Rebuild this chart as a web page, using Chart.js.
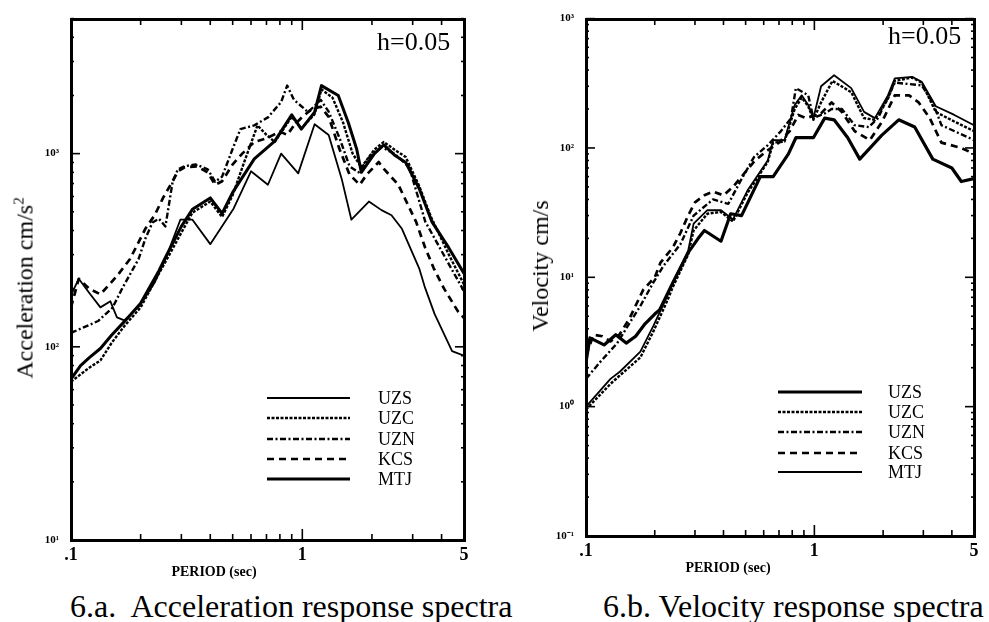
<!DOCTYPE html>
<html><head><meta charset="utf-8">
<script src="https://cdn.jsdelivr.net/npm/chart.js@4/dist/chart.umd.min.js"></script>
<style>
body{margin:0;background:#fff;width:989px;height:622px;overflow:hidden;position:relative;font-family:"Liberation Serif","Times New Roman",serif;color:#000;}
canvas{position:absolute;top:0;}
.t{position:absolute;white-space:nowrap;line-height:1;}
.rot{transform:translate(-50%,-50%) rotate(-90deg);}
</style></head><body>
<canvas id="accChart" width="480" height="565" style="left:0"></canvas>
<canvas id="velChart" width="489" height="565" style="left:500px"></canvas>

<div class="t rot" style="left:24px;top:288px;font-size:24px;">Acceleration cm/s<sup style="font-size:15px;">2</sup></div>
<div class="t rot" style="left:540px;top:266px;font-size:24px;">Velocity cm/s</div>
<div class="t" style="left:377px;top:29px;font-size:26px;">h=0.05</div>
<div class="t" style="left:888px;top:23px;font-size:26px;">h=0.05</div>
<div class="t" style="left:214px;top:572px;font-size:14px;font-weight:bold;transform:translate(-50%,-50%);">PERIOD (sec)</div>
<div class="t" style="left:728px;top:568px;font-size:14px;font-weight:bold;transform:translate(-50%,-50%);">PERIOD (sec)</div>
<div class="t" style="left:70px;top:590px;font-size:32px;white-space:pre;">6.a.  Acceleration response spectra</div>
<div class="t" style="left:603px;top:590px;font-size:32px;white-space:pre;">6.b. Velocity response spectra</div>

<script>
// ---------- DATA ----------
const seriesNames = ["UZS", "UZC", "UZN", "KCS", "MTJ"];
const xTickValues = [0.1, 1, 5];
const xTickLabels = [".1", "1", "5"];

// Acceleration (cm/s^2) vs period (sec)
const accT_UZS = [0.1, 0.108, 0.12, 0.134, 0.148, 0.158, 0.17, 0.2, 0.23, 0.256, 0.297, 0.335, 0.4, 0.505, 0.6, 0.71, 0.81, 0.96, 1.13, 1.3, 1.48, 1.63, 1.94, 2.2, 2.43, 2.69, 3.2, 3.38, 3.73, 4.44, 5];
const accUZS   = [185, 225, 190, 160, 172, 142, 137, 166, 215, 285, 455, 455, 340, 520, 810, 690, 1000, 790, 1420, 1250, 740, 455, 565, 510, 480, 410, 255, 205, 148, 95, 90];

const accT_UZC = [0.1, 0.11, 0.12, 0.134, 0.15, 0.17, 0.2, 0.24, 0.256, 0.3, 0.335, 0.4, 0.45, 0.5, 0.56, 0.64, 0.7, 0.76, 0.9, 0.99, 1.13, 1.21, 1.35, 1.5, 1.65, 1.8, 2.05, 2.25, 2.5, 2.8, 3.2, 3.6, 4.3, 5];
const accUZC   = [66, 72, 78, 85, 105, 128, 160, 240, 275, 390, 495, 565, 470, 610, 900, 1400, 1250, 1150, 1550, 1350, 1600, 2150, 1950, 1450, 1000, 850, 1050, 1150, 1050, 960, 680, 470, 300, 210];

const accT_UZN = [0.1, 0.131, 0.151, 0.167, 0.196, 0.21, 0.225, 0.24, 0.256, 0.275, 0.29, 0.31, 0.345, 0.39, 0.42, 0.45, 0.5, 0.54, 0.62, 0.71, 0.81, 0.86, 0.92, 1.06, 1.2, 1.3, 1.45, 1.6, 1.75, 2.0, 2.2, 2.5, 2.9, 3.4, 4.3, 5];
const accUZN   = [118, 136, 159, 202, 285, 365, 440, 460, 420, 715, 830, 860, 880, 830, 715, 760, 1060, 1340, 1400, 1540, 1850, 2250, 1900, 1640, 1900, 1650, 1200, 860, 800, 1000, 1080, 1000, 850, 445, 268, 194];

const accT_KCS = [0.1, 0.108, 0.12, 0.134, 0.148, 0.16, 0.18, 0.21, 0.23, 0.25, 0.275, 0.29, 0.31, 0.35, 0.39, 0.42, 0.45, 0.5, 0.55, 0.62, 0.7, 0.8, 0.86, 0.92, 1.0, 1.1, 1.2, 1.3, 1.45, 1.6, 1.77, 1.9, 2.14, 2.2, 2.6, 3.1, 3.4, 3.7, 4.1, 4.7, 5];
const accKCS   = [160, 225, 200, 187, 213, 237, 285, 410, 480, 590, 720, 810, 850, 860, 800, 690, 720, 880, 1000, 1150, 1200, 1300, 1250, 1400, 1550, 1700, 1750, 1550, 1050, 780, 690, 780, 905, 860, 690, 445, 325, 255, 200, 153, 141];

const accT_MTJ = [0.1, 0.11, 0.12, 0.134, 0.15, 0.17, 0.2, 0.24, 0.256, 0.3, 0.335, 0.4, 0.45, 0.5, 0.62, 0.76, 0.9, 0.99, 1.13, 1.21, 1.43, 1.58, 1.72, 1.8, 2.05, 2.25, 2.5, 2.8, 3.2, 3.63, 4.3, 5];
const accMTJ   = [68, 80, 88, 98, 115, 135, 168, 248, 290, 420, 515, 590, 490, 630, 940, 1160, 1590, 1340, 1640, 2250, 2000, 1450, 1050, 800, 1000, 1110, 985, 900, 660, 445, 325, 240];

// Velocity (cm/s) vs period (sec)
const velT_UZS = [0.1, 0.104, 0.12, 0.135, 0.15, 0.165, 0.18, 0.2, 0.21, 0.24, 0.28, 0.31, 0.33, 0.39, 0.43, 0.48, 0.58, 0.66, 0.77, 0.83, 0.99, 1.11, 1.22, 1.4, 1.58, 1.8, 1.97, 2.34, 2.75, 3.3, 4.0, 4.4, 5];
const velUZS   = [2.2, 3.4, 3.0, 3.6, 3.1, 3.5, 4.3, 5.2, 5.6, 9.1, 15.5, 20, 23, 19, 31, 30, 60, 60, 90, 120, 120, 170, 165, 120, 82, 105, 125, 165, 145, 82, 70, 55, 58];

const velT_UZC = [0.1, 0.128, 0.141, 0.173, 0.197, 0.227, 0.24, 0.28, 0.296, 0.34, 0.39, 0.44, 0.51, 0.625, 0.66, 0.74, 0.82, 0.88, 0.94, 0.99, 1.07, 1.2, 1.45, 1.65, 1.84, 2.1, 2.25, 2.68, 2.95, 3.4, 4.1, 5];
const velUZC   = [0.95, 1.5, 1.75, 2.4, 3.8, 6.6, 8.4, 15, 23, 31, 32, 27, 45, 78, 110, 112, 200, 245, 210, 165, 225, 330, 270, 170, 165, 240, 330, 350, 320, 190, 160, 135];

const velT_UZN = [0.1, 0.115, 0.137, 0.156, 0.173, 0.197, 0.218, 0.259, 0.296, 0.36, 0.42, 0.476, 0.544, 0.625, 0.714, 0.79, 0.83, 0.94, 0.99, 1.11, 1.19, 1.32, 1.5, 1.73, 1.9, 2.25, 2.95, 3.3, 3.6, 5];
const velUZN   = [1.64, 2.2, 3.1, 4.5, 6.0, 9.1, 12.2, 18, 30, 40, 37, 56, 85, 105, 135, 170, 290, 255, 170, 185, 200, 200, 150, 145, 170, 320, 305, 225, 150, 115];

const velT_KCS = [0.1, 0.108, 0.118, 0.128, 0.14, 0.155, 0.178, 0.2, 0.212, 0.24, 0.259, 0.28, 0.3, 0.33, 0.36, 0.4, 0.44, 0.48, 0.55, 0.62, 0.7, 0.78, 0.85, 0.92, 1.07, 1.19, 1.32, 1.5, 1.75, 1.98, 2.25, 2.6, 2.86, 3.2, 3.6, 4.4, 5];
const velKCS   = [2.5, 3.6, 3.5, 3.2, 3.6, 4.8, 8.0, 10, 13, 17, 22, 30, 38, 43, 46, 43, 50, 60, 80, 95, 110, 135, 180, 170, 185, 225, 190, 135, 115, 160, 255, 255, 225, 170, 110, 100, 90];

const velT_MTJ = [0.1, 0.128, 0.141, 0.173, 0.197, 0.227, 0.24, 0.28, 0.296, 0.34, 0.39, 0.44, 0.51, 0.625, 0.66, 0.74, 0.82, 0.88, 0.94, 0.99, 1.07, 1.22, 1.45, 1.65, 1.84, 2.1, 2.25, 2.68, 2.95, 3.4, 4.1, 5];
const velMTJ   = [1.0, 1.64, 1.87, 2.66, 4.2, 7.2, 9.1, 16, 26, 33, 33, 28, 47, 80, 115, 115, 215, 255, 215, 170, 300, 365, 290, 190, 170, 255, 345, 355, 325, 210, 180, 150];

// ---------- STYLE ----------
const dashes = { UZS: [], UZC: [3, 1.5], UZN: [6, 2.5, 2, 2.5], KCS: [7, 5], MTJ: [] };
const accWidths = { UZS: 1.8, UZC: 2.4, UZN: 2.4, KCS: 2.7, MTJ: 3 };
const velWidths = { UZS: 3.2, UZC: 2.4, UZN: 2.4, KCS: 2.7, MTJ: 1.8 };

function pts(T, V) { return T.map((t, i) => ({ x: t, y: V[i] })); }

function makeDatasets(list, widths) {
  return list.map(([name, T, V]) => ({
    label: name, data: pts(T, V), borderColor: '#000', backgroundColor: '#000',
    borderWidth: widths[name], borderDash: dashes[name], pointRadius: 0, tension: 0, fill: false,
    borderCapStyle: 'butt', borderJoinStyle: 'round'
  }));
}

const SUP = { '-': '\u207B', '0': '\u2070', '1': '\u00B9', '2': '\u00B2', '3': '\u00B3', '4': '\u2074' };
function decadeLabel(v) {
  const e = Math.round(Math.log10(v));
  return '10' + String(e).split('').map(c => SUP[c]).join('');
}

const boxPlugin = {
  id: 'boxTicks',
  afterDraw(chart, args, o) {
    const { ctx, chartArea: a, scales: { x, y } } = chart;
    ctx.save();
    ctx.setLineDash([]);
    ctx.globalAlpha = 1;
    ctx.fillStyle = '#000';
    ctx.strokeStyle = '#000';
    const L0 = Math.round(a.left), R0 = Math.round(a.right), T0 = Math.round(a.top), B0 = Math.round(a.bottom);
    // frame
    ctx.fillRect(L0 - 1, T0 - 1, R0 - L0 + 3, 3);
    ctx.fillRect(L0 - 1, B0 - 1, R0 - L0 + 3, 3);
    ctx.fillRect(L0 - 1, T0 - 1, 3, B0 - T0 + 3);
    ctx.fillRect(R0 - 1, T0 - 1, 3, B0 - T0 + 3);
    ctx.lineWidth = 1.6;
    const ln = (x1, y1, x2, y2) => { ctx.beginPath(); ctx.moveTo(x1, y1); ctx.lineTo(x2, y2); ctx.stroke(); };
    // x ticks (top and bottom, inward)
    for (let d = -1; d <= 0; d++) {
      for (let m = 2; m <= 10; m++) {
        const v = m * Math.pow(10, d);
        if (v > x.max + 1e-9) continue;
        const p = x.getPixelForValue(v);
        const L = (m === 10) ? 11 : 6;
        ln(p, B0, p, B0 - L);
        ln(p, T0, p, T0 + L);
      }
    }
    // y ticks (left and right, inward)
    const d0 = Math.round(Math.log10(y.min)), d1 = Math.round(Math.log10(y.max));
    for (let d = d0; d <= d1; d++) {
      for (let m = 1; m <= 9; m++) {
        const v = m * Math.pow(10, d);
        if (v > y.max * 1.0001) break;
        const p = y.getPixelForValue(v);
        const L = m === 1 ? 9 : 3;
        ln(L0, p, L0 + L, p);
        ln(R0, p, R0 - L, p);
      }
    }
    // legend
    const lg = o.legend;
    chart.data.datasets.forEach((ds, i) => {
      const yy = lg.ys[i];
      ctx.lineWidth = ds.borderWidth;
      ctx.setLineDash(ds.borderDash || []);
      ln(lg.x1, yy, lg.x2, yy);
      ctx.setLineDash([]);
      ctx.font = '18px "Liberation Serif", serif';
      ctx.textBaseline = 'middle';
      ctx.textAlign = 'left';
      ctx.fillText(ds.label, lg.tx, yy + 1);
    });
    ctx.restore();
  }
};

function makeChart(id, datasets, yMin, yMax, yWidth, xHeight, pad, legend) {
  return new Chart(document.getElementById(id), {
    type: 'line',
    data: { datasets },
    plugins: [boxPlugin],
    options: {
      responsive: false, animation: false, events: [],
      layout: { padding: pad },
      plugins: { legend: { display: false }, tooltip: { enabled: false }, boxTicks: { legend } },
      scales: {
        x: {
          type: 'logarithmic', min: 0.1, max: 5,
          grid: { display: false, drawTicks: false }, border: { display: false },
          afterBuildTicks: s => { s.ticks = xTickValues.map(v => ({ value: v })); },
          afterFit: s => { s.height = xHeight; },
          ticks: {
            autoSkip: false, maxRotation: 0, padding: 5, color: '#000',
            font: { family: 'Liberation Serif', size: 18, weight: 'bold' },
            callback: v => { const i = xTickValues.findIndex(t => Math.abs(t - v) < 1e-9); return i >= 0 ? xTickLabels[i] : ''; }
          }
        },
        y: {
          type: 'logarithmic', min: yMin, max: yMax,
          grid: { display: false, drawTicks: false }, border: { display: false },
          afterBuildTicks: s => {
            const t = [];
            for (let d = Math.round(Math.log10(yMin)); d <= Math.round(Math.log10(yMax)); d++) {
              const v = Math.pow(10, d); if (v <= yMax * 1.0001) t.push({ value: v });
            }
            s.ticks = t;
          },
          afterFit: s => { s.width = yWidth; },
          ticks: {
            autoSkip: false, padding: 12, color: '#000',
            font: { family: 'Liberation Serif', size: 11, weight: 'bold' },
            callback: v => decadeLabel(v)
          }
        }
      }
    }
  });
}

const accSets = makeDatasets([
  ['UZS', accT_UZS, accUZS], ['UZC', accT_UZC, accUZC], ['UZN', accT_UZN, accUZN],
  ['KCS', accT_KCS, accKCS], ['MTJ', accT_MTJ, accMTJ]], accWidths);
const velSets = makeDatasets([
  ['UZS', velT_UZS, velUZS], ['UZC', velT_UZC, velUZC], ['UZN', velT_UZN, velUZN],
  ['KCS', velT_KCS, velKCS], ['MTJ', velT_MTJ, velMTJ]], velWidths);

makeChart('accChart', accSets, 10, 5000, 71, 25, { left: 0, top: 15, right: 16, bottom: 0 },
  { x1: 267, x2: 350, tx: 378, ys: [398, 418, 439, 459, 479] });
makeChart('velChart', velSets, 0.1, 1000, 86, 29, { left: 0, top: 13, right: 15, bottom: 0 },
  { x1: 278, x2: 362, tx: 388, ys: [392, 412, 432, 453, 472] });
</script>
</body></html>
